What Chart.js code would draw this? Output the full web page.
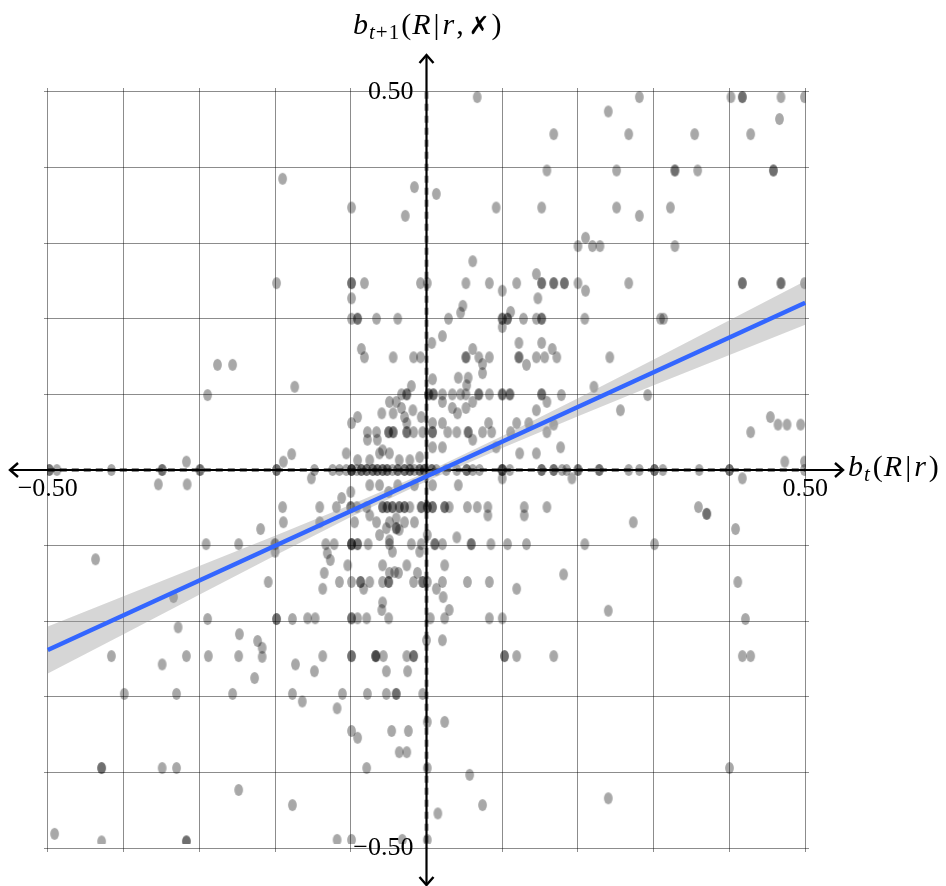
<!DOCTYPE html>
<html>
<head>
<meta charset="utf-8">
<script src="https://cdn.jsdelivr.net/npm/chart.js@4.4.1/dist/chart.umd.min.js"></script>
<style>
  html, body { margin: 0; padding: 0; background: #fff; }
  #wrap { width: 946px; height: 886px; }
  #warm { position: absolute; left: -2000px; top: 0; font: 26px 'Liberation Serif'; }
</style>
</head>
<body>
<div id="wrap"><canvas id="chart" width="946" height="886"></canvas></div>
<div id="warm">0.50 <i>bR</i> <b style="font-family:'DejaVu Sans'">&#x2717;</b></div>
<script>
// --- datos ---
const labelledTicks = [-0.5, 0.5];
const tickLabels = ["\u22120.50", "0.50"];

// puntos sobre b_{t+1} = 0
const rowZeroX = [-0.498, -0.498, -0.488, -0.416, -0.349, -0.349, -0.299, -0.299, -0.198, -0.198,
  -0.148, -0.124, -0.115, -0.106, -0.099, -0.099, -0.099, -0.092, -0.086, -0.086, -0.079, -0.079,
  -0.071, -0.071, -0.065, -0.065, -0.058, -0.058, -0.052, -0.052, -0.045, -0.038, -0.038, -0.029,
  -0.029, -0.022, -0.022, -0.016, -0.009, -0.009, -0.003, -0.003,
  0.007, 0.007, 0.013, 0.026, 0.04, 0.053, 0.053, 0.061, 0.07, 0.1, 0.1, 0.1, 0.11, 0.152, 0.152,
  0.168, 0.168, 0.179, 0.185, 0.2, 0.2, 0.228, 0.228, 0.267, 0.281, 0.301, 0.301, 0.312, 0.36,
  0.4, 0.4, 0.499];

const upperLeft = [[-0.19, 0.385], [-0.198, 0.247], [-0.276, 0.139], [-0.256, 0.139], [-0.289, 0.099],
  [-0.174, 0.11], [-0.317, 0.011], [-0.189, 0.011], [-0.178, 0.021], [-0.016, 0.374], [-0.099, 0.347],
  [-0.028, 0.336], [-0.099, 0.247], [-0.099, 0.247], [-0.082, 0.247], [-0.008, 0.247], [-0.099, 0.227],
  [-0.099, 0.2], [-0.091, 0.2], [-0.091, 0.2], [-0.066, 0.2], [-0.038, 0.2], [-0.086, 0.16],
  [-0.082, 0.149], [-0.044, 0.149], [-0.017, 0.149], [-0.008, 0.149], [-0.02, 0.111], [-0.026, 0.1],
  [-0.026, 0.1], [-0.033, 0.1], [-0.049, 0.09], [-0.04, 0.09], [-0.033, 0.082], [-0.029, 0.07],
  [-0.026, 0.062], [-0.044, 0.075], [-0.018, 0.079], [-0.007, 0.07], [-0.099, 0.062], [-0.091, 0.07],
  [-0.05, 0.05], [-0.05, 0.05], [-0.044, 0.05], [-0.044, 0.05], [-0.026, 0.05], [-0.026, 0.05],
  [-0.017, 0.05], [-0.005, 0.05], [-0.065, 0.04], [-0.078, 0.04], [-0.106, 0.022], [-0.091, 0.013],
  [-0.075, 0.013], [-0.062, 0.022], [-0.049, 0.022], [-0.036, 0.013], [-0.022, 0.013], [-0.009, 0.017],
  [-0.059, 0.075], [-0.058, 0.026], [-0.066, 0.05], [-0.078, 0.05]];

const upperRight = [[0.067, 0.493], [0.168, 0.444], [0.159, 0.396], [0.013, 0.365], [0.092, 0.347],
  [0.152, 0.347], [0.061, 0.276], [0.001, 0.247], [0.052, 0.247], [0.083, 0.247], [0.119, 0.247],
  [0.152, 0.247], [0.152, 0.247], [0.168, 0.247], [0.168, 0.247], [0.145, 0.259], [0.1, 0.237],
  [0.147, 0.227], [0.029, 0.2], [0.1, 0.2], [0.1, 0.2], [0.107, 0.2], [0.107, 0.2], [0.128, 0.2],
  [0.145, 0.2], [0.152, 0.2], [0.152, 0.2], [0.048, 0.217], [0.045, 0.208], [0.1, 0.189],
  [0.111, 0.209], [0.007, 0.168], [0.021, 0.177], [0.061, 0.16], [0.122, 0.168], [0.152, 0.168],
  [0.052, 0.149], [0.052, 0.149], [0.069, 0.149], [0.083, 0.149], [0.122, 0.149], [0.122, 0.149],
  [0.145, 0.149], [0.156, 0.149], [0.172, 0.149], [0.074, 0.14], [0.074, 0.128], [0.132, 0.139],
  [0.008, 0.12], [0.042, 0.122], [0.055, 0.122], [0.053, 0.112], [0.003, 0.1], [0.003, 0.1],
  [0.009, 0.1], [0.009, 0.1], [0.021, 0.1], [0.034, 0.1], [0.045, 0.1], [0.052, 0.1], [0.069, 0.1],
  [0.069, 0.1], [0.083, 0.1], [0.1, 0.1], [0.1, 0.1], [0.11, 0.1], [0.11, 0.1], [0.152, 0.1],
  [0.152, 0.1], [0.145, 0.079], [0.159, 0.09], [0.021, 0.09], [0.034, 0.082], [0.041, 0.075],
  [0.052, 0.082], [0.061, 0.09], [0.008, 0.062], [0.021, 0.062], [0.082, 0.062], [0.119, 0.062],
  [0.135, 0.062], [0.159, 0.05], [0.008, 0.05], [0.008, 0.05], [0.028, 0.05], [0.04, 0.05],
  [0.055, 0.05], [0.055, 0.05], [0.074, 0.05], [0.086, 0.05], [0.111, 0.05], [0.008, 0.03],
  [0.021, 0.03], [0.061, 0.04], [0.092, 0.03], [0.123, 0.022], [0.145, 0.022], [0.177, 0.03],
  [0.281, 0.493], [0.402, 0.493], [0.417, 0.493], [0.417, 0.493], [0.468, 0.493], [0.499, 0.493],
  [0.24, 0.474], [0.466, 0.464], [0.267, 0.444], [0.354, 0.444], [0.428, 0.444], [0.251, 0.396],
  [0.328, 0.396], [0.328, 0.396], [0.358, 0.396], [0.458, 0.396], [0.458, 0.396], [0.251, 0.347],
  [0.281, 0.336], [0.322, 0.347], [0.2, 0.296], [0.21, 0.307], [0.219, 0.296], [0.229, 0.296],
  [0.328, 0.296], [0.182, 0.247], [0.182, 0.247], [0.2, 0.247], [0.21, 0.237], [0.267, 0.247],
  [0.417, 0.247], [0.417, 0.247], [0.468, 0.247], [0.468, 0.247], [0.499, 0.247], [0.209, 0.2],
  [0.309, 0.2], [0.313, 0.2], [0.166, 0.16], [0.242, 0.149], [0.221, 0.11], [0.292, 0.099],
  [0.178, 0.099], [0.256, 0.079], [0.168, 0.06], [0.454, 0.07], [0.464, 0.06], [0.476, 0.06],
  [0.494, 0.06], [0.428, 0.05], [0.473, 0.011], [0.499, 0.011]];

const lowerLeft = [[-0.354, -0.019], [-0.316, -0.019], [-0.19, -0.049], [-0.189, -0.069], [-0.219, -0.078],
  [-0.291, -0.098], [-0.248, -0.098], [-0.2, -0.098], [-0.2, -0.098], [-0.2, -0.108], [-0.437, -0.118],
  [-0.209, -0.148], [-0.334, -0.168], [-0.328, -0.208], [-0.289, -0.197], [-0.198, -0.197],
  [-0.198, -0.197], [-0.177, -0.197], [-0.247, -0.217], [-0.223, -0.226], [-0.217, -0.235],
  [-0.217, -0.247], [-0.416, -0.246], [-0.349, -0.257], [-0.317, -0.246], [-0.288, -0.246],
  [-0.248, -0.246], [-0.227, -0.275], [-0.173, -0.257], [-0.399, -0.296], [-0.33, -0.296],
  [-0.256, -0.296], [-0.177, -0.296], [-0.429, -0.394], [-0.429, -0.394], [-0.349, -0.394],
  [-0.33, -0.394], [-0.248, -0.423], [-0.177, -0.443], [-0.491, -0.481], [-0.429, -0.491],
  [-0.317, -0.491], [-0.317, -0.491], [-0.152, -0.011], [-0.1, -0.029], [-0.075, -0.02],
  [-0.062, -0.02], [-0.05, -0.029], [-0.038, -0.02], [-0.016, -0.02], [-0.112, -0.037],
  [-0.141, -0.049], [-0.119, -0.049], [-0.1, -0.049], [-0.1, -0.049], [-0.092, -0.049],
  [-0.079, -0.049], [-0.058, -0.049], [-0.058, -0.049], [-0.052, -0.049], [-0.052, -0.049],
  [-0.045, -0.049], [-0.045, -0.049], [-0.036, -0.049], [-0.036, -0.049], [-0.029, -0.049],
  [-0.029, -0.049], [-0.022, -0.049], [-0.007, -0.049], [-0.007, -0.049], [-0.141, -0.069],
  [-0.095, -0.069], [-0.075, -0.06], [-0.066, -0.069], [-0.049, -0.069], [-0.04, -0.064],
  [-0.029, -0.069], [-0.016, -0.069], [-0.053, -0.077], [-0.04, -0.077], [-0.04, -0.077],
  [-0.036, -0.079], [-0.062, -0.086], [-0.049, -0.093], [-0.133, -0.098], [-0.122, -0.098],
  [-0.099, -0.098], [-0.099, -0.098], [-0.099, -0.098], [-0.091, -0.098], [-0.091, -0.098],
  [-0.077, -0.098], [-0.049, -0.098], [-0.02, -0.098], [-0.007, -0.098], [-0.131, -0.11],
  [-0.127, -0.119], [-0.045, -0.108], [-0.009, -0.108], [-0.104, -0.126], [-0.058, -0.126],
  [-0.026, -0.126], [-0.135, -0.136], [-0.049, -0.136], [-0.042, -0.135], [-0.037, -0.136],
  [-0.012, -0.136], [-0.115, -0.148], [-0.099, -0.148], [-0.087, -0.148], [-0.087, -0.148],
  [-0.075, -0.148], [-0.058, -0.148], [-0.05, -0.148], [-0.05, -0.148], [-0.017, -0.148],
  [-0.005, -0.148], [-0.005, -0.148], [-0.137, -0.157], [-0.083, -0.157], [-0.058, -0.175],
  [-0.059, -0.185], [-0.157, -0.196], [-0.147, -0.196], [-0.099, -0.196], [-0.099, -0.196],
  [-0.091, -0.196], [-0.079, -0.196], [-0.05, -0.196], [-0.137, -0.246], [-0.099, -0.246],
  [-0.099, -0.246], [-0.067, -0.246], [-0.067, -0.246], [-0.067, -0.246], [-0.057, -0.246],
  [-0.026, -0.246], [-0.017, -0.246], [-0.017, -0.246], [-0.148, -0.266], [-0.053, -0.266],
  [-0.025, -0.266], [-0.164, -0.306], [-0.111, -0.296], [-0.078, -0.296], [-0.053, -0.296],
  [-0.04, -0.296], [-0.04, -0.296], [-0.005, -0.296], [-0.118, -0.315], [-0.099, -0.345],
  [-0.091, -0.354], [-0.046, -0.345], [-0.024, -0.345], [-0.036, -0.373], [-0.026, -0.373],
  [-0.079, -0.394], [-0.118, -0.489], [-0.099, -0.489], [-0.032, -0.489]];

const lowerRight = [[0.042, -0.02], [0.1, -0.011], [0.008, -0.02], [0.001, -0.049], [0.001, -0.049],
  [0.008, -0.049], [0.008, -0.049], [0.024, -0.049], [0.024, -0.049], [0.03, -0.049], [0.054, -0.049],
  [0.067, -0.049], [0.081, -0.049], [0.129, -0.049], [0.159, -0.049], [0.081, -0.06], [0.129, -0.06],
  [0.04, -0.089], [0.001, -0.086], [0.011, -0.098], [0.011, -0.098], [0.021, -0.098], [0.059, -0.098],
  [0.059, -0.098], [0.085, -0.098], [0.107, -0.098], [0.132, -0.098], [0.024, -0.126], [0.001, -0.148],
  [0.021, -0.148], [0.054, -0.148], [0.083, -0.148], [0.013, -0.157], [0.119, -0.157], [0.022, -0.168],
  [0.03, -0.185], [0.024, -0.196], [0.005, -0.196], [0.083, -0.196], [0.1, -0.196], [0.021, -0.225],
  [0, -0.225], [0.103, -0.246], [0.103, -0.246], [0.119, -0.246], [0.168, -0.246], [0.001, -0.333],
  [0.024, -0.333], [0.001, -0.394], [0.057, -0.403], [0.015, -0.454], [0.074, -0.443], [0.001, -0.489],
  [0.192, -0.011], [0.417, -0.011], [0.359, -0.049], [0.37, -0.058], [0.37, -0.058], [0.273, -0.069],
  [0.408, -0.078], [0.209, -0.098], [0.301, -0.098], [0.181, -0.138], [0.411, -0.148], [0.24, -0.186],
  [0.421, -0.197], [0.417, -0.246], [0.428, -0.246], [0.4, -0.394], [0.24, -0.434]];

// recta ajustada y banda de confianza
const fitX = [-0.5, 0.5];
const fitY = [-0.238, 0.221];
const bandX = [-0.5, -0.4, -0.3, -0.2, -0.1, 0, 0.1, 0.2, 0.3, 0.4, 0.5];
const bandLow = [-0.269, -0.217, -0.165, -0.113, -0.062, -0.015, 0.029, 0.071, 0.112, 0.152, 0.192];
const bandHigh = [-0.207, -0.167, -0.127, -0.087, -0.046, -0.003, 0.045, 0.095, 0.146, 0.198, 0.25];

// --- marca elipsoidal semitransparente ---
function makeDot() {
  const c = document.createElement("canvas");
  c.width = 11;
  c.height = 14;
  const g = c.getContext("2d");
  g.fillStyle = "rgba(0,0,0,0.34)";
  g.beginPath();
  g.ellipse(5.5, 7, 4.4, 6, 0, 0, Math.PI * 2);
  g.fill();
  return c;
}

const toXY = ([x, y]) => ({ x, y });
const points = [
  ...rowZeroX.map(x => ({ x, y: 0 })),
  ...upperLeft.map(toXY),
  ...upperRight.map(toXY),
  ...lowerLeft.map(toXY),
  ...lowerRight.map(toXY)
];

const serif = "'Liberation Serif'";

function drawParts(ctx, x, y, parts) {
  for (const p of parts) {
    ctx.font = p.font;
    ctx.fillText(p.t, x, y + (p.dy || 0));
    x += ctx.measureText(p.t).width + (p.sp || 0);
  }
}

function strokeLine(ctx, x1, y1, x2, y2) {
  ctx.beginPath();
  ctx.moveTo(x1, y1);
  ctx.lineTo(x2, y2);
  ctx.stroke();
}

// ejes con flechas que cruzan el origen
const axesPlugin = {
  id: "arrowAxes",
  afterDatasetDraw(chart, args) {
    if (args.index !== 2) return;
    const { ctx, chartArea: a } = chart;
    const xs = chart.scales.x, ys = chart.scales.y;
    const x0 = xs.getPixelForValue(0), y0 = ys.getPixelForValue(0);
    const left = a.left - 34, right = a.right + 34, top = a.top - 33, bottom = a.bottom + 33;
    ctx.save();
    ctx.strokeStyle = "rgba(0,0,0,0.45)";
    ctx.lineWidth = 4;
    ctx.setLineDash([7, 5]);
    strokeLine(ctx, xs.getPixelForValue(-0.5), y0, xs.getPixelForValue(0.5), y0);
    strokeLine(ctx, x0, ys.getPixelForValue(0.5), x0, ys.getPixelForValue(-0.5));
    ctx.setLineDash([]);
    ctx.strokeStyle = "#000";
    ctx.lineWidth = 2.2;
    strokeLine(ctx, left + 1, y0, right - 1, y0);
    strokeLine(ctx, x0, top + 1, x0, bottom - 1);
    ctx.lineWidth = 2.4;
    ctx.lineJoin = "miter";
    const h = 8, w = 7;
    ctx.beginPath();
    ctx.moveTo(right - h, y0 - w); ctx.lineTo(right, y0); ctx.lineTo(right - h, y0 + w);
    ctx.moveTo(left + h, y0 - w); ctx.lineTo(left, y0); ctx.lineTo(left + h, y0 + w);
    ctx.moveTo(x0 - w, top + h); ctx.lineTo(x0, top); ctx.lineTo(x0 + w, top + h);
    ctx.moveTo(x0 - w, bottom - h); ctx.lineTo(x0, bottom); ctx.lineTo(x0 + w, bottom - h);
    ctx.stroke();
    ctx.restore();
  },
  afterDraw(chart) {
    const ctx = chart.ctx;
    const it = "italic 30px " + serif, up = "30px " + serif;
    const sub = "italic 21px " + serif, subUp = "21px " + serif;
    ctx.save();
    ctx.fillStyle = "#000";
    ctx.textBaseline = "alphabetic";
    drawParts(ctx, 353, 34, [
      { t: "b", font: it, sp: 1 },
      { t: "t", font: sub, dy: 5, sp: 1 },
      { t: "+", font: subUp, dy: 5, sp: 1 },
      { t: "1", font: subUp, dy: 5, sp: 2 },
      { t: "(", font: up, sp: 1 },
      { t: "R", font: it, sp: 3 },
      { t: "|", font: up, sp: 3 },
      { t: "r", font: it, sp: 2 },
      { t: ",", font: up, sp: 5 },
      { t: "\u2717", font: "bold 25px 'DejaVu Sans'", sp: 2 },
      { t: ")", font: up }
    ]);
    drawParts(ctx, 848, 476, [
      { t: "b", font: it, sp: 1 },
      { t: "t", font: sub, dy: 5, sp: 3 },
      { t: "(", font: up, sp: 1 },
      { t: "R", font: it, sp: 3 },
      { t: "|", font: up, sp: 3 },
      { t: "r", font: it, sp: 3 },
      { t: ")", font: up }
    ]);
    ctx.restore();
  }
};

function tickCallback(value) {
  for (let i = 0; i < labelledTicks.length; i++) {
    if (Math.abs(value - labelledTicks[i]) < 1e-6) return tickLabels[i];
  }
  return "";
}

// el eje y centrado no aplica padding: se separa la etiqueta con un espacio
function yTickCallback(value) {
  const s = tickCallback(value);
  return s ? s + "\u2002" : s;
}

const gridColor = "rgba(0,0,0,0.45)";

function drawChart() {
  new Chart(document.getElementById("chart"), {
    type: "scatter",
    data: {
      datasets: [
        {
          label: "ajuste",
          data: fitX.map((x, i) => ({ x, y: fitY[i] })),
          showLine: true,
          borderColor: "#3366FF",
          borderWidth: 4.5,
          pointRadius: 0,
          fill: false
        },
        {
          label: "banda",
          data: bandX.map((x, i) => ({ x, y: bandHigh[i] })),
          showLine: true,
          borderWidth: 0,
          borderColor: "rgba(0,0,0,0)",
          backgroundColor: "rgba(153,153,153,0.4)",
          pointRadius: 0,
          fill: 3
        },
        {
          label: "puntos",
          data: points,
          pointStyle: makeDot(),
          pointRadius: 5,
          clip: { left: -3, right: -3, top: -3, bottom: -8 }
        },
        {
          label: "banda baja",
          data: bandX.map((x, i) => ({ x, y: bandLow[i] })),
          showLine: true,
          borderWidth: 0,
          borderColor: "rgba(0,0,0,0)",
          pointRadius: 0,
          fill: false
        }
      ]
    },
    options: {
      responsive: false,
      animation: false,
      events: [],
      layout: { padding: { left: 44, right: 137, top: 88, bottom: 34 } },
      plugins: { legend: { display: false }, tooltip: { enabled: false } },
      scales: {
        x: {
          type: "linear",
          min: -0.505,
          max: 0.505,
          position: { y: 0 },
          grid: { color: gridColor, lineWidth: 1, drawTicks: false },
          border: { display: false },
          ticks: {
            stepSize: 0.1,
            includeBounds: false,
            autoSkip: false,
            maxRotation: 0,
            padding: 4,
            color: "#000",
            font: { family: serif, size: 26 },
            callback: tickCallback
          }
        },
        y: {
          type: "linear",
          min: -0.505,
          max: 0.505,
          position: { x: 0 },
          grid: { color: gridColor, lineWidth: 1, drawTicks: false },
          border: { display: false },
          ticks: {
            stepSize: 0.1,
            includeBounds: false,
            autoSkip: false,
            padding: 0,
            color: "#000",
            font: { family: serif, size: 26 },
            callback: yTickCallback
          }
        }
      }
    },
    plugins: [axesPlugin]
  });
}

// las fuentes del sistema se cargan perezosamente en canvas
Promise.all([
  document.fonts.load("26px 'Liberation Serif'"),
  document.fonts.load("italic 26px 'Liberation Serif'"),
  document.fonts.load("bold 25px 'DejaVu Sans'", "\u2717")
]).catch(() => {}).then(() => document.fonts.ready).then(drawChart);
</script>
</body>
</html>
